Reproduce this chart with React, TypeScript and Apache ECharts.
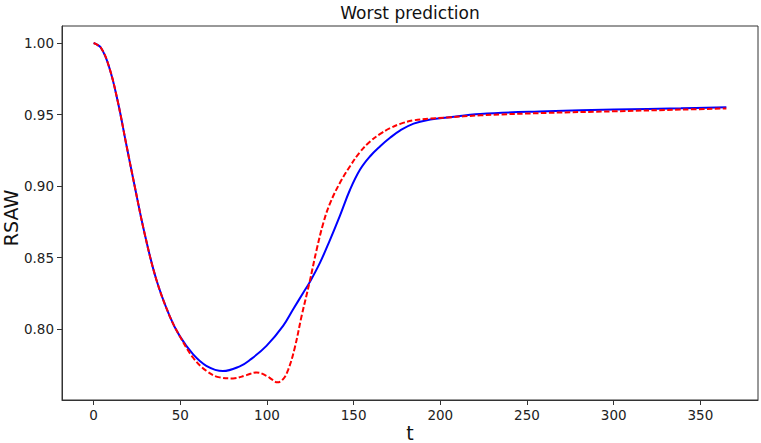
import React, { useEffect, useRef } from "react";
import * as echarts from "echarts";

// blue solid curve (actual): time steps and values
const tActual = [0, 4.3, 9.1, 13.9, 18.7, 23.6, 29.3, 36.1, 43.8, 49.6, 57.3, 65, 74.6, 84.3, 90.1, 99.7, 109.3, 115.1, 121, 124.5, 130.6, 136, 142.1, 147.9, 153.7, 159.5, 165.3, 171, 176.9, 184.6, 194.2, 203.9, 223.1, 261.7, 300.2, 338.8, 365];
const actual = [1.0, 0.9965, 0.9826, 0.9593, 0.93, 0.9005, 0.8675, 0.835, 0.8094, 0.7954, 0.7826, 0.7745, 0.7708, 0.7741, 0.7785, 0.7884, 0.8024, 0.814, 0.8257, 0.8326, 0.8466, 0.8615, 0.8795, 0.8975, 0.9116, 0.9209, 0.9279, 0.9338, 0.939, 0.9437, 0.9465, 0.948, 0.9505, 0.9523, 0.9535, 0.9544, 0.9551];

// red dashed curve (prediction): time steps and values
const tPredicted = [0, 4.3, 9.1, 13.9, 18.7, 23.6, 29.3, 36.1, 43.8, 49.6, 57.3, 65, 72.7, 80.4, 88.2, 94, 99.7, 103, 106, 109.3, 112.3, 116, 120, 124.5, 128.7, 132.5, 136.3, 142.1, 147.9, 153.7, 159.5, 165.3, 171, 176.9, 184.6, 194.2, 203.9, 223.1, 261.7, 300.2, 338.8, 365];
const predicted = [1.0, 0.9965, 0.9826, 0.9593, 0.93, 0.9005, 0.8675, 0.835, 0.8094, 0.7954, 0.7803, 0.771, 0.7664, 0.7657, 0.768, 0.7699, 0.7675, 0.7648, 0.763, 0.7652, 0.772, 0.787, 0.8094, 0.8326, 0.8559, 0.8742, 0.8878, 0.9024, 0.9139, 0.9239, 0.9312, 0.9365, 0.9405, 0.9435, 0.946, 0.9472, 0.948, 0.9495, 0.9512, 0.9523, 0.9535, 0.9543];

const titleText = "Worst prediction";
const xName = "t";
const yName = "RSAW";

const FONT = "DejaVu Sans";

export default function App() {
  const ref = useRef<HTMLDivElement>(null);
  useEffect(() => {
    if (!ref.current) return;
    const chart = echarts.init(ref.current, null, { renderer: "svg" });
    const gridLeft = 62;
    const gridTop = 26;
    const gridRight = 758;
    const gridBottom = 400;
    chart.setOption({
      animation: false,
      backgroundColor: "#ffffff",
      grid: {
        left: gridLeft,
        top: gridTop,
        width: gridRight - gridLeft,
        height: gridBottom - gridTop,
        show: true,
        borderColor: "#333",
        borderWidth: 1,
        backgroundColor: "transparent",
      },
      xAxis: {
        type: "value",
        min: -18.25,
        max: 383.25,
        splitNumber: 8,
        splitLine: { show: false },
        axisLine: { show: true, onZero: false, lineStyle: { color: "#333", width: 1 } },
        axisTick: { show: true, length: 5, lineStyle: { color: "#333" } },
        axisLabel: {
          showMinLabel: false,
          showMaxLabel: false,
          margin: 8,
          color: "#222",
          fontFamily: FONT,
          fontSize: 13.5,
        },
      },
      yAxis: {
        type: "value",
        min: 0.7506,
        max: 1.0119,
        splitNumber: 5,
        splitLine: { show: false },
        axisLine: { show: true, onZero: false, lineStyle: { color: "#333", width: 1 } },
        axisTick: { show: true, length: 5, lineStyle: { color: "#333" } },
        axisLabel: {
          showMinLabel: false,
          showMaxLabel: false,
          margin: 8,
          color: "#222",
          fontFamily: FONT,
          fontSize: 13.5,
          formatter: (v: number) => v.toFixed(2),
        },
      },
      graphic: [
        {
          type: "text",
          x: (gridLeft + gridRight) / 2,
          y: 13,
          style: {
            text: titleText,
            fill: "#111",
            font: `17px "${FONT}"`,
            align: "center",
            verticalAlign: "middle",
          },
        },
        {
          type: "text",
          x: (gridLeft + gridRight) / 2,
          y: 433,
          style: {
            text: xName,
            fill: "#111",
            font: `19px "${FONT}"`,
            align: "center",
            verticalAlign: "middle",
          },
        },
        {
          type: "text",
          x: 11,
          y: 218,
          rotation: Math.PI / 2,
          style: {
            text: yName,
            fill: "#111",
            font: `19px "${FONT}"`,
            align: "center",
            verticalAlign: "middle",
          },
        },
      ],
      series: [
        {
          name: "actual",
          type: "line",
          data: tActual.map((x, i) => [x, actual[i]]),
          showSymbol: false,
          smooth: 0.4,
          lineStyle: { color: "#0000ff", width: 2, type: "solid" },
          z: 2,
        },
        {
          name: "predicted",
          type: "line",
          data: tPredicted.map((x, i) => [x, predicted[i]]),
          showSymbol: false,
          smooth: 0.4,
          lineStyle: { color: "#ff0000", width: 2, type: [5.5, 2.4] },
          z: 3,
        },
      ],
    });
    return () => chart.dispose();
  }, []);
  return (
    <div
      ref={ref}
      style={{ position: "absolute", left: 0, top: 0, width: 761, height: 443 }}
    />
  );
}
